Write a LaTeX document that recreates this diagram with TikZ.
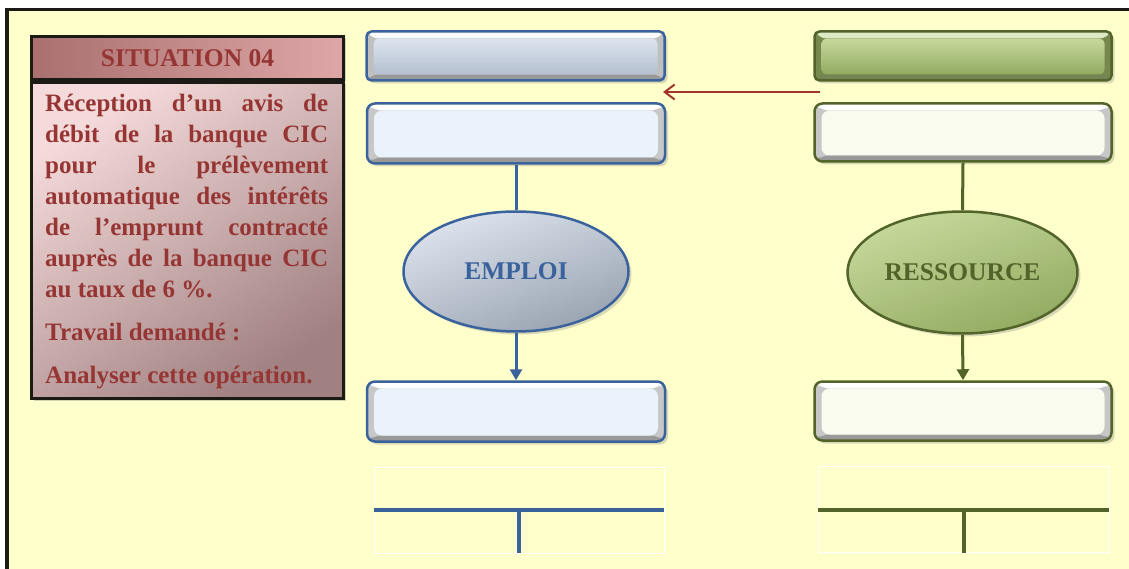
\documentclass[tikz,border=0pt]{standalone}
\usepackage{fontspec}
\setmainfont{Liberation Serif}
\usetikzlibrary{shapes.geometric,shadows,arrows.meta}

\definecolor{cream}{RGB}{255,255,204}
\definecolor{framecol}{RGB}{28,26,20}
\definecolor{sitred}{RGB}{150,54,52}
\definecolor{sitpinka}{RGB}{222,166,166}
\definecolor{sitpinkb}{RGB}{170,112,112}
\definecolor{bodytop}{RGB}{244,218,218}
\definecolor{bodybot}{RGB}{160,128,128}
\definecolor{empblue}{RGB}{58,98,156}
\definecolor{empfacea}{RGB}{220,227,237}
\definecolor{empfaceb}{RGB}{180,192,208}
\definecolor{emplight}{RGB}{234,243,252}
\definecolor{resgreen}{RGB}{82,100,42}
\definecolor{resfacea}{RGB}{198,217,156}
\definecolor{resfaceb}{RGB}{146,170,96}
\definecolor{reslight}{RGB}{248,251,238}
\definecolor{arrowred}{RGB}{162,52,46}

\tikzset{
  boxshadow/.style={drop shadow={opacity=.3,shadow xshift=3pt,shadow yshift=-3pt}},
  bevel/.style n args={4}{fill=#4, path picture={
    \coordinate (pnw) at (path picture bounding box.north west);
    \coordinate (pne) at (path picture bounding box.north east);
    \coordinate (psw) at (path picture bounding box.south west);
    \coordinate (pse) at (path picture bounding box.south east);
    \fill[#2] (pnw) -- (pne) -- ([shift={(-7pt,-7pt)}]pne) -- ([shift={(7pt,-7pt)}]pnw) -- cycle;
    \fill[#3] (psw) -- (pse) -- ([shift={(-7pt,6pt)}]pse) -- ([shift={(7pt,6pt)}]psw) -- cycle;
    \fill[#1] ([shift={(7pt,6pt)}]psw) rectangle ([shift={(-7pt,-7pt)}]pne);
  }},
  empbox/.style={draw=empblue, line width=2.5pt, minimum width=298pt, boxshadow},
  resbox/.style={draw=resgreen, line width=2.5pt, minimum width=297pt, boxshadow},
  headbox/.style={minimum height=49pt, rounded corners=5pt},
  lightbox/.style={minimum height=60pt, rounded corners=8pt},
  ellnode/.style={ellipse, line width=2.5pt, boxshadow,
    font=\bfseries\fontsize{25.5}{25.5}\selectfont},
  sitbox/.style={draw=framecol, line width=3pt, minimum width=312pt,
    drop shadow={opacity=.35,shadow xshift=2pt,shadow yshift=-2pt}},
  link/.style={line width=3pt},
  tframe/.style={draw=white, line width=0.8pt, minimum width=290pt, minimum height=86pt},
  tline/.style={line width=4pt}
}

\begin{document}
\begin{tikzpicture}[x=1pt,y=1pt]
  \useasboundingbox (0,0) rectangle (1129,-569);
  \fill[white] (0,0) rectangle (1129,-569);
  \fill[cream] (7,-9.5) rectangle (1129,-569);
  \draw[framecol, line width=3.5pt] (7,-569) -- (7,-9.5) -- (1129,-9.5);

  % situation
  \node[sitbox, minimum height=316pt, top color=bodytop, bottom color=bodybot,
    shading angle=35] (sitBody) at (187.5,-240.5) {};
  \node[sitbox, minimum height=43pt, left color=sitpinkb, right color=sitpinka,
    text=sitred, font=\bfseries\fontsize{25.5}{25.5}\selectfont] (sitTitle) at (187.5,-58) {SITUATION 04};
  \node[anchor=north west, inner sep=0pt, text width=283pt, align=justify, text=sitred,
    font=\bfseries\fontsize{25}{31}\selectfont] (sitText) at (45,-94)
    {\makebox[283pt][s]{Réception d’un avis de}\\
     \makebox[283pt][s]{débit de la banque CIC}\\
     \makebox[283pt][s]{pour le prélèvement}\\
     \makebox[283pt][s]{automatique des intérêts}\\
     \makebox[283pt][s]{de l’emprunt contracté}\\
     \makebox[283pt][s]{auprès de la banque CIC}\\
     au taux de 6~\%.\\[12pt]
     Travail demandé :\\[12pt]
     Analyser cette opération.};

  % emploi
  \node[empbox, headbox, bevel={top color=empfacea, bottom color=empfaceb}{white!85!empfacea}{black!40}{black!25}]
    (emp1) at (515.5,-56) {};
  \node[empbox, lightbox, bevel={emplight}{white}{black!40}{black!22}] (emp2) at (516,-133.5) {};
  \node[ellnode, draw=empblue, top color=empfacea, bottom color=empfaceb!85!black,
    shading angle=20, text=empblue, minimum width=225pt, minimum height=120pt]
    (empEll) at (516,-271.5) {EMPLOI};
  \node[empbox, lightbox, bevel={emplight}{white}{black!40}{black!22}] (emp3) at (516,-411.5) {};
  \draw[link, empblue] (emp2.south) -- (empEll.north);
  \draw[link, empblue, -{Triangle[length=11pt,width=12pt]}] (empEll.south) -- (emp3.north);
  \node[tframe] (empT) at (519,-510) {};
  \draw[tline, empblue] (empT.west) -- (empT.east);
  \draw[tline, empblue] (empT.center) -- (empT.south);

  % ressource
  \node[resbox, headbox, bevel={top color=resfacea, bottom color=resfaceb}{resfacea!60!white}{resgreen!80}{resfaceb!80!black}]
    (res1) at (963,-56) {};
  \node[resbox, lightbox, minimum height=58pt, bevel={reslight}{white}{black!40}{black!22}] (res2) at (963,-132.5) {};
  \node[ellnode, draw=resgreen, top color=resfacea, bottom color=resfaceb,
    shading angle=20, text=resgreen, minimum width=226pt, minimum height=122pt]
    (resEll) at (962.5,-272.5) {RESSOURCE};
  \node[resbox, lightbox, minimum height=59pt, bevel={reslight}{white}{black!40}{black!22}] (res3) at (963,-411) {};
  \draw[link, resgreen] (res2.south) -- (resEll.north);
  \draw[link, resgreen, -{Triangle[length=11pt,width=12pt]}] (resEll.south) -- (res3.north);
  \node[tframe, minimum width=291pt] (resT) at (963.5,-509.5) {};
  \draw[tline, resgreen] (resT.west) -- (resT.east);
  \draw[tline, resgreen] (resT.center) -- (resT.south);

  % red arrow
  \coordinate (redFrom) at (820,-92);
  \coordinate (redTo) at (663,-92);
  \draw[arrowred, line width=2pt, -{Straight Barb[length=10pt,width=15pt]}] (redFrom) -- (redTo);
\end{tikzpicture}
\end{document}
